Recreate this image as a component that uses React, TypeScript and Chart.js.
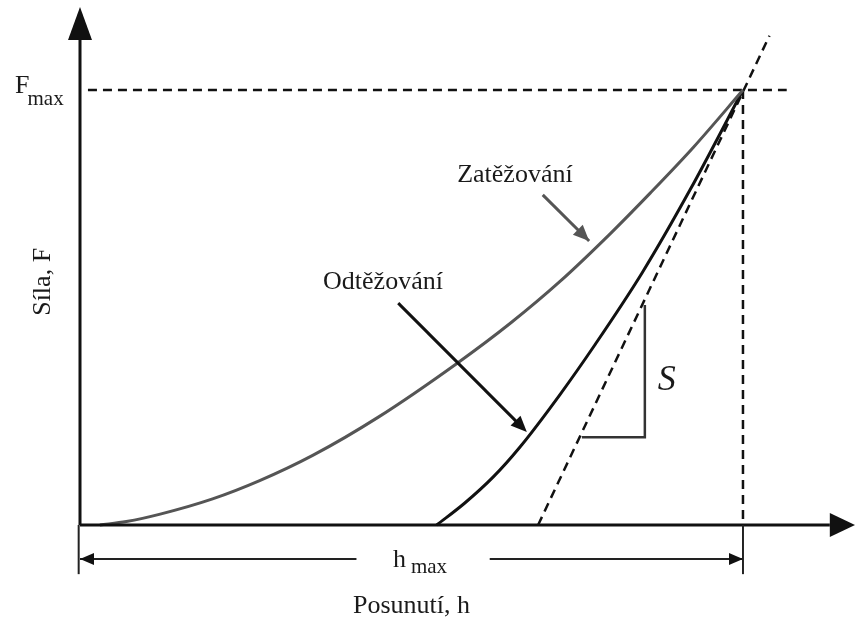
import React, { useEffect, useRef } from "react";
import { Chart, registerables } from "chart.js";

Chart.register(...registerables);

// Loading curve (Zatěžování): displacement h (relative to hmax) and force F (relative to Fmax)
const H_LOAD = [0.03, 0.07, 0.121, 0.2, 0.271, 0.351, 0.45, 0.569, 0.65, 0.724, 0.8, 0.86, 0.925, 1.0];
const F_LOAD = [0.0, 0.008, 0.025, 0.06, 0.102, 0.16, 0.248, 0.372, 0.465, 0.56, 0.67, 0.763, 0.868, 1.0];

// Unloading curve (Odtěžování)
const H_UNLOAD = [0.538, 0.58, 0.623, 0.664, 0.724, 0.777, 0.848, 0.92, 1.0];
const F_UNLOAD = [0.0, 0.05, 0.11, 0.18, 0.3, 0.415, 0.58, 0.77, 1.0];

// Tangent to the unloading curve at Fmax (stiffness S)
const H_TAN = [0.691, 1.04];
const F_TAN = [0.0, 1.125];

// Fmax level and hmax position
const H_FMAX_LINE = [0.012, 1.066];
const F_FMAX_LINE = [1.0, 1.0];
const H_HMAX_LINE = [1.0, 1.0];
const F_HMAX_LINE = [1.0, 0.0];

// Stiffness triangle S
const H_S = [0.757, 0.852, 0.852];
const F_S = [0.202, 0.202, 0.506];

// Labels
const LABEL_FMAX = ["F", "max"];
const LABEL_HMAX = ["h", "max"];
const LABEL_Y = "Síla, F";
const LABEL_X = "Posunutí, h";
const LABEL_LOAD = "Zatěžování";
const LABEL_UNLOAD = "Odtěžování";
const LABEL_S = "S";

const X_MAX = 1.172;
const Y_MAX = 1.207;

const SERIF = "'Liberation Serif', 'Times New Roman', serif";

const pts = (h: number[], f: number[]) => h.map((x, i) => ({ x, y: f[i] }));

// Annotation placement in data units (h, F)
const ANN = {
  yAxisTip: 1.191,
  yAxisHeadBase: 1.115,
  xAxisTip: 1.169,
  xAxisHeadBase: 1.131,
  dimY: -0.078,
  dimExtBottom: -0.113,
  dimLeftEnd: 0.417,
  dimRightStart: 0.618,
  loadArrow: { from: [0.698, 0.759], to: [0.768, 0.653] },
  unloadArrow: { from: [0.48, 0.51], to: [0.674, 0.214] },
  loadLabel: [0.656, 0.805],
  unloadLabel: [0.457, 0.559],
  sLabel: [0.885, 0.333],
  yLabel: [-0.0558, 0.559],
  xLabel: [0.5, -0.202],
  fmaxLabel: [-0.098, 0.993],
  hmaxLabel: [0.472, -0.097],
};

export default function App() {
  const ref = useRef<HTMLCanvasElement>(null);

  useEffect(() => {
    document.body.style.margin = "0";
    const canvas = ref.current!;
    const annot = {
      id: "annot",
      afterDatasetsDraw(chart: any) {
        const { ctx } = chart;
        const xs = chart.scales.x;
        const ys = chart.scales.y;
        const px = (h: number) => xs.getPixelForValue(h);
        const py = (f: number) => ys.getPixelForValue(f);
        ctx.save();

        const seg = (h1: number, f1: number, h2: number, f2: number, w: number, color: string) => {
          ctx.beginPath();
          ctx.strokeStyle = color;
          ctx.lineWidth = w;
          ctx.setLineDash([]);
          ctx.moveTo(px(h1), py(f1));
          ctx.lineTo(px(h2), py(f2));
          ctx.stroke();
        };
        const head = (tx: number, ty: number, fx: number, fy: number, len: number, half: number, color: string) => {
          const ang = Math.atan2(ty - fy, tx - fx);
          ctx.beginPath();
          ctx.fillStyle = color;
          ctx.moveTo(tx, ty);
          ctx.lineTo(tx - len * Math.cos(ang) + half * Math.sin(ang), ty - len * Math.sin(ang) - half * Math.cos(ang));
          ctx.lineTo(tx - len * Math.cos(ang) - half * Math.sin(ang), ty - len * Math.sin(ang) + half * Math.cos(ang));
          ctx.closePath();
          ctx.fill();
        };

        // Axes
        seg(0, 0, 0, ANN.yAxisHeadBase, 3, "#111");
        head(px(0), py(ANN.yAxisTip), px(0), py(0), py(ANN.yAxisHeadBase) - py(ANN.yAxisTip), 12, "#111");
        seg(0, 0, ANN.xAxisHeadBase, 0, 3, "#111");
        head(px(ANN.xAxisTip), py(0), px(0), py(0), px(ANN.xAxisTip) - px(ANN.xAxisHeadBase), 12, "#111");

        // Dimension hmax
        seg(-0.002, 0, -0.002, ANN.dimExtBottom, 2, "#222");
        seg(1.0, 0, 1.0, ANN.dimExtBottom, 2, "#222");
        seg(0, ANN.dimY, ANN.dimLeftEnd, ANN.dimY, 2, "#222");
        head(px(0), py(ANN.dimY), px(1), py(ANN.dimY), 14, 6, "#111");
        seg(ANN.dimRightStart, ANN.dimY, 1.0, ANN.dimY, 2, "#222");
        head(px(1.0), py(ANN.dimY), px(0), py(ANN.dimY), 14, 6, "#111");

        // Annotation arrows
        const la = ANN.loadArrow;
        seg(la.from[0], la.from[1], la.to[0], la.to[1], 3, "#555");
        head(px(la.to[0]), py(la.to[1]), px(la.from[0]), py(la.from[1]), 16, 7, "#555");
        const ua = ANN.unloadArrow;
        seg(ua.from[0], ua.from[1], ua.to[0] - 0.01, ua.to[1] + 0.015, 3, "#111");
        head(px(ua.to[0]), py(ua.to[1]), px(ua.from[0]), py(ua.from[1]), 16, 7, "#111");

        // Texts
        ctx.fillStyle = "#1a1a1a";
        ctx.textAlign = "center";
        ctx.textBaseline = "middle";
        ctx.font = `26px ${SERIF}`;
        ctx.fillText(LABEL_LOAD, px(ANN.loadLabel[0]), py(ANN.loadLabel[1]));
        ctx.fillText(LABEL_UNLOAD, px(ANN.unloadLabel[0]), py(ANN.unloadLabel[1]));
        ctx.font = `italic 36px ${SERIF}`;
        ctx.fillText(LABEL_S, px(ANN.sLabel[0]), py(ANN.sLabel[1]));

        ctx.font = `26px ${SERIF}`;
        ctx.textBaseline = "alphabetic";
        ctx.fillText(LABEL_X, px(ANN.xLabel[0]), py(ANN.xLabel[1]));

        ctx.save();
        ctx.translate(px(ANN.yLabel[0]), py(ANN.yLabel[1]));
        ctx.rotate(-Math.PI / 2);
        ctx.textBaseline = "middle";
        ctx.fillText(LABEL_Y, 0, 0);
        ctx.restore();

        // Fmax
        ctx.textAlign = "left";
        ctx.textBaseline = "alphabetic";
        const fx = px(ANN.fmaxLabel[0]);
        const fy = py(ANN.fmaxLabel[1]);
        ctx.font = `26px ${SERIF}`;
        ctx.fillText(LABEL_FMAX[0], fx, fy);
        const fw = ctx.measureText(LABEL_FMAX[0]).width;
        ctx.font = `21px ${SERIF}`;
        ctx.fillText(LABEL_FMAX[1], fx + fw - 2, fy + 12);

        // hmax
        const hx = px(ANN.hmaxLabel[0]);
        const hy = py(ANN.hmaxLabel[1]);
        ctx.font = `26px ${SERIF}`;
        ctx.fillText(LABEL_HMAX[0], hx, hy);
        const hw = ctx.measureText(LABEL_HMAX[0]).width;
        ctx.font = `21px ${SERIF}`;
        ctx.fillText(LABEL_HMAX[1], hx + hw + 5, hy + 6);

        ctx.restore();
      },
    };

    const chart = new Chart(canvas, {
      type: "line",
      data: {
        datasets: [
          {
            label: LABEL_LOAD,
            data: pts(H_LOAD, F_LOAD),
            borderColor: "#555555",
            borderWidth: 3,
            pointRadius: 0,
            cubicInterpolationMode: "monotone",
            clip: false,
          },
          {
            label: LABEL_UNLOAD,
            data: pts(H_UNLOAD, F_UNLOAD),
            borderColor: "#111111",
            borderWidth: 3,
            pointRadius: 0,
            cubicInterpolationMode: "monotone",
            clip: false,
          },
          {
            label: "tangent",
            data: pts(H_TAN, F_TAN),
            borderColor: "#111111",
            borderWidth: 2.5,
            borderDash: [9, 6],
            pointRadius: 0,
            clip: false,
          },
          {
            label: "Fmax",
            data: pts(H_FMAX_LINE, F_FMAX_LINE),
            borderColor: "#111111",
            borderWidth: 2.5,
            borderDash: [9, 6],
            pointRadius: 0,
            clip: false,
          },
          {
            label: "hmax",
            data: pts(H_HMAX_LINE, F_HMAX_LINE),
            borderColor: "#111111",
            borderWidth: 2.5,
            borderDash: [9, 6],
            pointRadius: 0,
            clip: false,
          },
          {
            label: "S",
            data: pts(H_S, F_S),
            borderColor: "#333333",
            borderWidth: 2.5,
            pointRadius: 0,
            clip: false,
          },
        ],
      },
      options: {
        responsive: false,
        animation: false,
        layout: { padding: { left: 80, right: 0, top: 0, bottom: 93 } },
        plugins: { legend: { display: false }, tooltip: { enabled: false } },
        scales: {
          x: { type: "linear", min: 0, max: X_MAX, display: false },
          y: { type: "linear", min: 0, max: Y_MAX, display: false },
        },
      },
      plugins: [annot],
    } as any);
    return () => chart.destroy();
  }, []);

  return (
    <div style={{ width: 857, height: 618, background: "#fff" }}>
      <canvas ref={ref} width={857} height={618} style={{ display: "block" }} />
    </div>
  );
}
